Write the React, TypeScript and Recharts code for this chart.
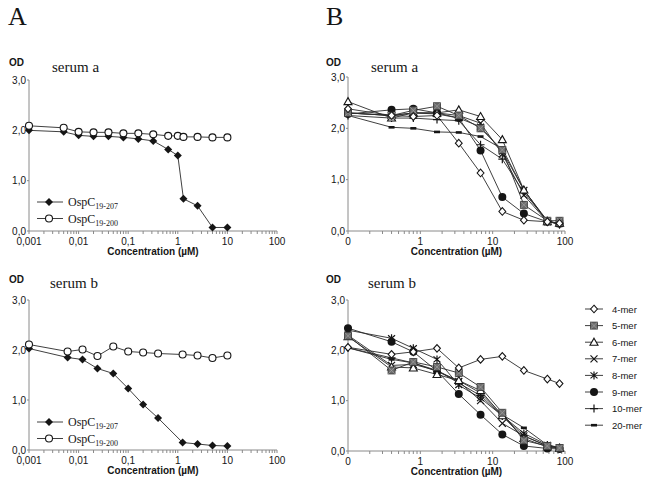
import React from 'react';
import { LineChart, Line, XAxis, YAxis } from 'recharts';

// panel A: peptide concentrations (µM) and OD values
const concA1 = [0.001, 0.005, 0.01, 0.02, 0.04, 0.08, 0.16, 0.32, 0.64, 1, 1.3, 2.5, 5, 10];
const osp207SerumA = [2.0, 1.97, 1.9, 1.88, 1.88, 1.86, 1.83, 1.79, 1.62, 1.5, 0.64, 0.5, 0.07, 0.07];
const osp200SerumA = [2.09, 2.05, 1.97, 1.96, 1.96, 1.94, 1.94, 1.92, 1.89, 1.89, 1.87, 1.87, 1.86, 1.86];

const concA2 = [0.001, 0.006, 0.012, 0.024, 0.05, 0.1, 0.2, 0.4, 1.25, 2.5, 5, 10];
const osp207SerumB = [2.03, 1.85, 1.81, 1.63, 1.53, 1.23, 0.91, 0.64, 0.15, 0.12, 0.09, 0.08];
const osp200SerumB = [2.11, 1.97, 2.01, 1.88, 2.07, 1.97, 1.95, 1.93, 1.91, 1.89, 1.84, 1.89];

// panel B: oligomer concentrations (µM)
const concB = [0.1, 0.4, 0.8, 1.7, 3.4, 6.8, 13.6, 27, 57, 84];

const mer4a = [2.38, 2.25, 2.23, 2.25, 1.71, 1.13, 0.38, 0.21, 0.18, 0.15];
const mer5a = [2.3, 2.25, 2.35, 2.43, 2.25, 2.0, 1.58, 0.51, 0.2, 0.2];
const mer6a = [2.52, 2.2, 2.3, 2.3, 2.36, 2.23, 1.78, 0.8, 0.18, 0.15];
const mer7a = [2.3, 2.25, 2.3, 2.3, 2.25, 2.1, 1.5, 0.7, 0.18, 0.15];
const mer8a = [2.3, 2.25, 2.3, 2.28, 2.2, 2.03, 1.55, 0.8, 0.2, 0.14];
const mer9a = [2.28, 2.36, 2.38, 2.3, 2.2, 1.57, 0.66, 0.34, 0.18, 0.14];
const mer10a = [2.25, 2.2, 2.2, 2.17, 2.15, 1.68, 1.4, 0.75, 0.2, 0.12];
const mer20a = [2.25, 2.02, 2.0, 1.93, 1.92, 1.84, 1.6, 0.8, 0.18, 0.15];

const mer4b = [2.06, 1.92, 1.97, 2.04, 1.65, 1.82, 1.88, 1.6, 1.43, 1.34];
const mer5b = [2.29, 1.6, 1.77, 1.67, 1.55, 1.27, 0.76, 0.21, 0.1, 0.06];
const mer6b = [2.27, 1.67, 1.65, 1.52, 1.4, 1.2, 0.7, 0.25, 0.08, 0.05];
const mer7b = [2.3, 1.7, 1.72, 1.6, 1.38, 1.0, 0.55, 0.3, 0.1, 0.06];
const mer8b = [2.4, 2.24, 2.04, 1.82, 1.31, 1.05, 0.7, 0.35, 0.12, 0.07];
const mer9b = [2.44, 2.17, 1.97, 1.59, 1.13, 0.72, 0.33, 0.1, 0.05, 0.04];
const mer10b = [2.05, 1.85, 1.75, 1.6, 1.35, 1.1, 0.7, 0.3, 0.1, 0.06];
const mer20b = [2.05, 1.82, 1.75, 1.58, 1.4, 1.15, 0.72, 0.46, 0.12, 0.06];

const merNames = ['4-mer', '5-mer', '6-mer', '7-mer', '8-mer', '9-mer', '10-mer', '20-mer'];

// axis ticks
const majorA = [0.001, 0.01, 0.1, 1, 10, 100];
const majorALabels = ['0,001', '0,01', '0,1', '1', '10', '100'];
const majorB = [0.1, 1, 10, 100];
const majorBLabels = ['0', '1', '10', '100'];
const yTicks = [0, 1, 2, 3];
const yLabels = ['0,0', '1,0', '2,0', '3,0'];

type Shape = 'fdiamond' | 'ocircle' | 'odiamond' | 'hsquare' | 'otriangle' | 'cross' | 'star' | 'fcircle' | 'plus' | 'dash';
const merShapes: Shape[] = ['odiamond', 'hsquare', 'otriangle', 'cross', 'star', 'fcircle', 'plus', 'dash'];

const INK = '#151515';
const LINE = '#2a2a2a';
const AXIS = '#8a8a8a';

const Marker = ({ shape, cx, cy }: { shape: Shape; cx: number; cy: number }) => {
  switch (shape) {
    case 'fdiamond':
      return <polygon points={`${cx},${cy - 4} ${cx + 4},${cy} ${cx},${cy + 4} ${cx - 4},${cy}`} fill={INK} />;
    case 'ocircle':
      return <circle cx={cx} cy={cy} r={3.5} fill="#fff" stroke={INK} strokeWidth={1.1} />;
    case 'odiamond':
      return <polygon points={`${cx},${cy - 3.8} ${cx + 3.4},${cy} ${cx},${cy + 3.8} ${cx - 3.4},${cy}`} fill="#fff" stroke={INK} strokeWidth={1.1} />;
    case 'hsquare':
      return (
        <g>
          <rect x={cx - 3.5} y={cy - 3.5} width={7} height={7} fill="#6e6e6e" stroke="#333" strokeWidth={0.8} />
          <path d={`M${cx - 3.5},${cy - 3.5}L${cx + 3.5},${cy + 3.5}M${cx + 3.5},${cy - 3.5}L${cx - 3.5},${cy + 3.5}`} stroke="#aaa" strokeWidth={0.6} />
        </g>
      );
    case 'otriangle':
      return <polygon points={`${cx},${cy - 4} ${cx + 4},${cy + 3} ${cx - 4},${cy + 3}`} fill="#fff" stroke={INK} strokeWidth={1.1} />;
    case 'cross':
      return <path d={`M${cx - 3.5},${cy - 3.5}L${cx + 3.5},${cy + 3.5}M${cx + 3.5},${cy - 3.5}L${cx - 3.5},${cy + 3.5}`} stroke={INK} strokeWidth={1.2} />;
    case 'star':
      return <path d={`M${cx - 3.5},${cy - 3}L${cx + 3.5},${cy + 3}M${cx + 3.5},${cy - 3}L${cx - 3.5},${cy + 3}M${cx},${cy - 4}L${cx},${cy + 4}`} stroke={INK} strokeWidth={1.2} />;
    case 'fcircle':
      return <circle cx={cx} cy={cy} r={4} fill={INK} />;
    case 'plus':
      return <path d={`M${cx - 4},${cy}L${cx + 4},${cy}M${cx},${cy - 4}L${cx},${cy + 4}`} stroke={INK} strokeWidth={1.2} />;
    case 'dash':
      return <rect x={cx - 3} y={cy - 1.3} width={6} height={2.6} fill={INK} />;
    default:
      return null;
  }
};

const dotFor = (shape: Shape) => (p: any) => (
  <Marker key={`${shape}-${p.index}`} shape={shape} cx={p.cx} cy={p.cy} />
);

const minorsOf = (majors: number[]) =>
  majors.slice(0, -1).flatMap((d) => [2, 3, 4, 5, 6, 7, 8, 9].map((m) => d * m));

const labelFor = (majors: number[], labels: string[]) => (v: number) => {
  const i = majors.findIndex((m) => Math.abs(v / m - 1) < 1e-6);
  return i >= 0 ? labels[i] : '';
};

interface SeriesDef {
  key: string;
  shape: Shape;
}

interface PanelProps {
  left: number;
  top: number;
  width: number;
  height: number;
  marginTop: number;
  marginRight: number;
  yWidth: number;
  data: any[];
  series: SeriesDef[];
  majors: number[];
  majorLabels: string[];
}

const Panel = ({ left, top, width, height, marginTop, marginRight, yWidth, data, series, majors, majorLabels }: PanelProps) => {
  const ticks = [...majors, ...minorsOf(majors)].sort((a, b) => a - b);
  return (
    <div style={{ position: 'absolute', left, top }}>
      <LineChart width={width} height={height} data={data} margin={{ top: marginTop, right: marginRight, bottom: 0, left: 0 }}>
        <XAxis
          dataKey="conc"
          type="number"
          scale="log"
          domain={[majors[0], majors[majors.length - 1]]}
          ticks={ticks}
          interval={0}
          tickFormatter={labelFor(majors, majorLabels)}
          height={34}
          tickSize={3}
          tickMargin={4}
          axisLine={{ stroke: AXIS }}
          tickLine={{ stroke: AXIS }}
          tick={{ fontSize: 10, fill: INK }}
          label={{ value: 'Concentration (µM)', position: 'insideBottom', offset: 10, style: { fontWeight: 'bold', fontSize: 10, fill: INK } }}
        />
        <YAxis
          type="number"
          domain={[0, 3]}
          ticks={yTicks}
          interval={0}
          tickFormatter={(v: number) => yLabels[yTicks.indexOf(v)] ?? ''}
          width={yWidth}
          tickSize={2}
          tickMargin={1}
          axisLine={{ stroke: AXIS }}
          tickLine={{ stroke: AXIS }}
          tick={{ fontSize: 10, fill: INK }}
        />
        {series.map((s) => (
          <Line
            key={s.key}
            dataKey={s.key}
            type="linear"
            stroke={LINE}
            strokeWidth={0.9}
            dot={dotFor(s.shape)}
            activeDot={false}
            isAnimationActive={false}
          />
        ))}
      </LineChart>
    </div>
  );
};

const dataA1 = concA1.map((c, i) => ({ conc: c, osp207: osp207SerumA[i], osp200: osp200SerumA[i] }));
const dataA2 = concA2.map((c, i) => ({ conc: c, osp207: osp207SerumB[i], osp200: osp200SerumB[i] }));

const merSerumA = [mer4a, mer5a, mer6a, mer7a, mer8a, mer9a, mer10a, mer20a];
const merSerumB = [mer4b, mer5b, mer6b, mer7b, mer8b, mer9b, mer10b, mer20b];

const buildB = (sets: number[][]) =>
  concB.map((c, i) => {
    const row: any = { conc: c };
    sets.forEach((s, k) => {
      row[`m${k}`] = s[i];
    });
    return row;
  });

const dataB1 = buildB(merSerumA);
const dataB2 = buildB(merSerumB);

const seriesA: SeriesDef[] = [
  { key: 'osp207', shape: 'fdiamond' },
  { key: 'osp200', shape: 'ocircle' },
];
// draw 4-mer last so it sits on top like the original
const seriesB: SeriesDef[] = merShapes.map((shape, k) => ({ key: `m${k}`, shape })).reverse();

const serif = '"Liberation Serif", "Times New Roman", serif';
const sans = '"Liberation Sans", Arial, sans-serif';

const OspLegend = ({ y }: { y: number }) => (
  <g>
    {[
      { shape: 'fdiamond' as Shape, sub: '19-207', dy: 0 },
      { shape: 'ocircle' as Shape, sub: '19-200', dy: 16.5 },
    ].map((r) => (
      <g key={r.sub}>
        <line x1={37} x2={63} y1={y + r.dy} y2={y + r.dy} stroke={LINE} strokeWidth={0.9} />
        <Marker shape={r.shape} cx={49} cy={y + r.dy} />
        <text x={68} y={y + r.dy + 4} fontFamily={serif} fontSize={12} fill={INK}>
          OspC
          <tspan fontSize={8} dy={3}>{r.sub}</tspan>
        </text>
      </g>
    ))}
  </g>
);

export default function App() {
  return (
    <div style={{ position: 'absolute', left: 0, top: 0, width: 651, height: 489, background: '#fff', overflow: 'hidden', fontFamily: sans }}>
      <Panel left={0} top={60} width={300} height={205} marginTop={20} marginRight={23} yWidth={29} data={dataA1} series={seriesA} majors={majorA} majorLabels={majorALabels} />
      <Panel left={0} top={280} width={300} height={204} marginTop={20} marginRight={23} yWidth={29} data={dataA2} series={seriesA} majors={majorA} majorLabels={majorALabels} />
      <Panel left={320} top={57} width={265} height={208} marginTop={20} marginRight={20} yWidth={28} data={dataB1} series={seriesB} majors={majorB} majorLabels={majorBLabels} />
      <Panel left={320} top={280} width={265} height={205} marginTop={20} marginRight={20} yWidth={28} data={dataB2} series={seriesB} majors={majorB} majorLabels={majorBLabels} />

      <svg width={651} height={489} style={{ position: 'absolute', left: 0, top: 0, pointerEvents: 'none' }}>
        <text x={8} y={25} fontFamily={serif} fontSize={26} fill={INK}>A</text>
        <text x={326} y={25} fontFamily={serif} fontSize={26} fill={INK}>B</text>

        <text x={9} y={66} fontFamily={sans} fontWeight="bold" fontSize={10} fill={INK}>OD</text>
        <text x={52} y={72} fontFamily={serif} fontSize={15} fill={INK}>serum a</text>
        <text x={9} y={283} fontFamily={sans} fontWeight="bold" fontSize={10} fill={INK}>OD</text>
        <text x={50} y={288} fontFamily={serif} fontSize={15} fill={INK}>serum b</text>

        <text x={326} y={66} fontFamily={sans} fontWeight="bold" fontSize={10} fill={INK}>OD</text>
        <text x={371} y={72} fontFamily={serif} fontSize={15} fill={INK}>serum a</text>
        <text x={326} y={283} fontFamily={sans} fontWeight="bold" fontSize={10} fill={INK}>OD</text>
        <text x={368} y={288} fontFamily={serif} fontSize={15} fill={INK}>serum b</text>

        <OspLegend y={202} />
        <OspLegend y={422} />

        {merNames.map((name, k) => {
          const y = 309 + k * 16.6;
          return (
            <g key={name}>
              <line x1={585} x2={603} y1={y} y2={y} stroke={LINE} strokeWidth={0.9} />
              <Marker shape={merShapes[k]} cx={594} cy={y} />
              <text x={612} y={y + 3.5} fontFamily={sans} fontSize={9.5} fill={INK}>{name}</text>
            </g>
          );
        })}
      </svg>
    </div>
  );
}
